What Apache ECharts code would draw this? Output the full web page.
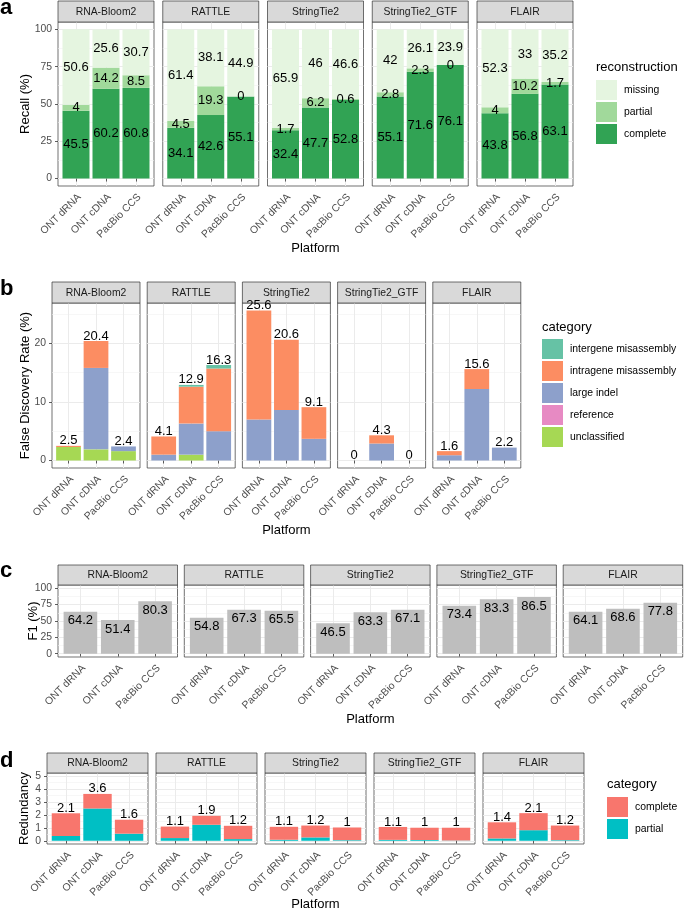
<!DOCTYPE html>
<html><head><meta charset="utf-8">
<script src="https://cdn.jsdelivr.net/npm/echarts@6/dist/echarts.min.js"></script>
<style>html,body{margin:0;padding:0;background:#fff}#c{width:685px;height:912px}</style>
</head><body><div id="c"></div>
<script>
// ---------- data ----------
const tools = ['RNA-Bloom2', 'RATTLE', 'StringTie2', 'StringTie2_GTF', 'FLAIR'];
const platforms = ['ONT dRNA', 'ONT cDNA', 'PacBio CCS'];

// (a) Recall (%) — per tool: [ONT dRNA, ONT cDNA, PacBio CCS]
const recallComplete = [[45.5, 60.2, 60.8], [34.1, 42.6, 55.1], [32.4, 47.7, 52.8], [55.1, 71.6, 76.1], [43.8, 56.8, 63.1]];
const recallPartial  = [[4, 14.2, 8.5], [4.5, 19.3, 0], [1.7, 6.2, 0.6], [2.8, 2.3, 0], [4, 10.2, 1.7]];
const recallMissing  = [[50.6, 25.6, 30.7], [61.4, 38.1, 44.9], [65.9, 46, 46.6], [42, 26.1, 23.9], [52.3, 33, 35.2]];
const recallTicks = [0, 25, 50, 75, 100];

// (b) False Discovery Rate (%)
const fdrIntergene    = [[0, 0, 0], [0, 0.3, 0.6], [0, 0, 0], [0, 0, 0], [0, 0, 0]];
const fdrIntragene    = [[0.2, 4.6, 0], [3.1, 6.3, 10.7], [18.6, 12.0, 5.4], [0, 1.4, 0], [0.7, 3.4, 0]];
const fdrLargeIndel   = [[0, 13.9, 0.8], [1.0, 5.3, 5.0], [7.0, 8.6, 3.7], [0, 2.9, 0], [0.9, 12.2, 2.2]];
const fdrReference    = [[0, 0, 0], [0, 0, 0], [0, 0, 0], [0, 0, 0], [0, 0, 0]];
const fdrUnclassified = [[2.3, 1.9, 1.6], [0, 1.0, 0], [0, 0, 0], [0, 0, 0], [0, 0, 0]];
const fdrTicks = [0, 10, 20];

// (c) F1 (%)
const f1Values = [[64.2, 51.4, 80.3], [54.8, 67.3, 65.5], [46.5, 63.3, 67.1], [73.4, 83.3, 86.5], [64.1, 68.6, 77.8]];
const f1Ticks = [0, 25, 50, 75, 100];

// (d) Redundancy
const redComplete = [[1.76, 1.13, 1.08], [0.89, 0.69, 1.03], [1.0, 0.92, 0.98], [1.0, 0.95, 0.99], [1.25, 1.32, 1.13]];
const redPartial  = [[0.37, 2.5, 0.55], [0.21, 1.24, 0.13], [0.08, 0.26, 0.05], [0.07, 0.06, 0.02], [0.18, 0.82, 0.05]];
const redTicks = [0, 1, 2, 3, 4, 5];

// ---------- helpers ----------
const FONT = '"Liberation Sans", Arial, Helvetica, sans-serif';
const fmt = v => String(Math.round(v * 10) / 10);
const maxTotal = arrs => Math.max(...arrs[0].flatMap((row, t) => row.map((_, p) => arrs.reduce((s, a) => s + a[t][p], 0))));

const option = {
  animation: false, backgroundColor: '#ffffff', textStyle: { fontFamily: FONT },
  grid: [], xAxis: [], yAxis: [], series: [], legend: [], graphic: { elements: [] }
};
const G = option.graphic.elements;

function addText(x, y, text, size, o = {}) {
  const el = { type: 'text', x, y, silent: true, z: 10,
    style: { text, fontSize: size, fontFamily: FONT, fill: o.fill || '#000', fontWeight: o.weight || 'normal',
      align: o.align || 'center', verticalAlign: o.va || 'middle' } };
  if (o.rotation) el.rotation = o.rotation;
  G.push(el);
}

function rectRender(color) {
  return (params, api) => {
    const x = api.value(0);
    const a = api.coord([x - 0.45, api.value(1)]);
    const b = api.coord([x + 0.45, api.value(2)]);
    return { type: 'rect', shape: { x: a[0], y: b[1], width: b[0] - a[0], height: a[1] - b[1] }, style: { fill: color } };
  };
}
function labelRender(mode) {
  return (params, api) => {
    const p = api.coord([api.value(0), api.value(1)]);
    const dy = mode === 'total' ? -5 : (mode === 'insideTop' ? 9 : 0);
    return { type: 'text', style: { text: fmt(api.value(2)), x: p[0], y: p[1] + dy, align: 'center', verticalAlign: 'middle',
      fontSize: 13, fontFamily: FONT, fill: '#000' } };
  };
}

function buildRow(row) {
  const span = row.ylim[1] - row.ylim[0];
  const ymin = row.ylim[0] - 0.05 * span, ymax = row.ylim[1] + 0.05 * span;
  const st = row.ticks[1] - row.ticks[0];
  const minor = [];
  for (let t = row.ticks[0] - st / 2; t <= ymax; t += st) if (t >= ymin) minor.push(t);
  const pxPerUnit = row.w / 3.2;
  const labelVals = [1, 2, 3].map(v => v + 3.5 / pxPerUnit);

  tools.forEach((tool, f) => {
    const gi = option.grid.length;
    const left = row.left + f * row.step;
    option.grid.push({ left, top: row.top, width: row.w, height: row.bottom - row.top, show: true,
      backgroundColor: '#fff', borderColor: '#333333', borderWidth: 0.7, containLabel: false, outerBoundsMode: 'none' });
    option.xAxis.push({ type: 'value', gridIndex: gi, min: 0.4, max: 3.6,
      axisLine: { show: false },
      axisTick: { show: true, length: 3, customValues: [1, 2, 3], lineStyle: { color: '#333', width: 0.8 } },
      axisLabel: { show: true, customValues: labelVals, rotate: 45, margin: 9.5, fontSize: 10.4, color: '#4D4D4D', fontFamily: FONT,
        formatter: v => platforms[Math.round(v) - 1] },
      splitLine: { show: true, lineStyle: { color: '#EBEBEB', width: 1 } } });
    const yi = option.yAxis.length;
    option.yAxis.push({ type: 'value', gridIndex: gi, min: ymin, max: ymax, position: 'left',
      axisLine: { show: false },
      axisTick: { show: f === 0, length: 3, customValues: row.ticks, lineStyle: { color: '#333', width: 0.8 } },
      axisLabel: { show: f === 0, customValues: row.ticks, margin: 6, fontSize: 10.4, color: '#4D4D4D', fontFamily: FONT },
      splitLine: { show: true, lineStyle: { color: '#EBEBEB', width: 1 } } });
    option.yAxis.push({ type: 'value', gridIndex: gi, min: ymin, max: ymax, position: 'left',
      axisLine: { show: false }, axisTick: { show: false, customValues: minor }, axisLabel: { show: false, customValues: minor },
      splitLine: { show: true, lineStyle: { color: '#F2F2F2', width: 0.6 } } });

    // strip
    G.push({ type: 'rect', silent: true, z: 5, shape: { x: left, y: row.stripTop, width: row.w, height: row.top - row.stripTop },
      style: { fill: '#D9D9D9', stroke: '#333333', lineWidth: 0.7 } });
    addText(left + row.w / 2, (row.stripTop + row.top) / 2 + 0.5, tool, 10.4, { fill: '#1A1A1A' });

    const base = [0, 0, 0];
    const labelData = [];
    row.layers.forEach(layer => {
      const vals = layer.values[f];
      const data = vals.map((v, i) => [i + 1, base[i], base[i] + v, v]);
      if (row.labelMode === 'segment') vals.forEach((v, i) => labelData.push([i + 1, base[i] + v / 2, v]));
      vals.forEach((v, i) => { base[i] += v; });
      option.series.push({ type: 'custom', name: layer.name, xAxisIndex: gi, yAxisIndex: yi, z: 2,
        itemStyle: { color: layer.color }, encode: { x: 0, y: [1, 2] }, data, renderItem: rectRender(layer.color) });
    });
    if (row.labelMode !== 'segment') base.forEach((b, i) => labelData.push([i + 1, b, b]));
    option.series.push({ type: 'custom', name: '_labels', xAxisIndex: gi, yAxisIndex: yi, z: 5, silent: true,
      encode: { x: 0, y: 1 }, data: labelData, renderItem: labelRender(row.labelMode) });
  });

  // titles
  const xCenter = row.left + (tools.length - 1) * row.step / 2 + row.w / 2;
  addText(xCenter, row.xTitleY, 'Platform', 13);
  addText(row.yTitleX, (row.top + row.bottom) / 2, row.yTitle, 13, { rotation: Math.PI / 2 });
  addText(0, row.letterY, row.letter, 22, { weight: 'bold', align: 'left' });

  if (row.legend) {
    option.legend.push({ orient: 'vertical', left: row.legend.left, top: row.legend.top, padding: 0,
      itemWidth: 21, itemHeight: 20, itemGap: 2, icon: 'rect', selectedMode: false,
      data: row.legend.names, formatter: n => n.replace(/^d:/, ''),
      itemStyle: { borderWidth: 0 },
      textStyle: { fontSize: 10.4, color: '#000', fontFamily: FONT, padding: [0, 0, 0, 2] } });
    addText(row.legend.left, row.legend.titleY, row.legend.title, 13, { align: 'left' });
  }
}

buildRow({ letter: 'a', letterY: 7.5, left: 58, step: 104.75, w: 96, stripTop: 1, top: 22, bottom: 186,
  ylim: [0, 100], ticks: recallTicks, labelMode: 'segment', yTitle: 'Recall (%)', yTitleX: 25, xTitleY: 248,
  layers: [
    { name: 'complete', color: '#31A354', values: recallComplete },
    { name: 'partial', color: '#A1D99B', values: recallPartial },
    { name: 'missing', color: '#E5F5E0', values: recallMissing }],
  legend: { title: 'reconstruction', left: 596, titleY: 67, top: 80, names: ['missing', 'partial', 'complete'] } });

buildRow({ letter: 'b', letterY: 289, left: 52, step: 95.2, w: 88, stripTop: 282, top: 303, bottom: 468,
  ylim: [0, maxTotal([fdrIntergene, fdrIntragene, fdrLargeIndel, fdrReference, fdrUnclassified])], ticks: fdrTicks,
  labelMode: 'total', yTitle: 'False Discovery Rate (%)', yTitleX: 25, xTitleY: 530,
  layers: [
    { name: 'unclassified', color: '#A6D854', values: fdrUnclassified },
    { name: 'reference', color: '#E78AC3', values: fdrReference },
    { name: 'large indel', color: '#8DA0CB', values: fdrLargeIndel },
    { name: 'intragene misassembly', color: '#FC8D62', values: fdrIntragene },
    { name: 'intergene misassembly', color: '#66C2A5', values: fdrIntergene }],
  legend: { title: 'category', left: 542, titleY: 327, top: 339,
    names: ['intergene misassembly', 'intragene misassembly', 'large indel', 'reference', 'unclassified'] } });

buildRow({ letter: 'c', letterY: 570.7, left: 58, step: 126.3, w: 119.5, stripTop: 565, top: 585, bottom: 657,
  ylim: [0, 100], ticks: f1Ticks, labelMode: 'insideTop', yTitle: 'F1 (%)', yTitleX: 33, xTitleY: 719,
  layers: [{ name: 'F1', color: '#BEBEBE', values: f1Values }] });

buildRow({ letter: 'd', letterY: 760.5, left: 47, step: 109, w: 101, stripTop: 753, top: 773, bottom: 844,
  ylim: [0, 5], ticks: redTicks, labelMode: 'total', yTitle: 'Redundancy', yTitleX: 24, xTitleY: 904,
  layers: [
    { name: 'd:partial', color: '#00BFC4', values: redPartial },
    { name: 'd:complete', color: '#F8766D', values: redComplete }],
  legend: { title: 'category', left: 607, titleY: 784, top: 797, names: ['d:complete', 'd:partial'] } });

const chart = echarts.init(document.getElementById('c'), null, { renderer: 'canvas', width: 685, height: 912 });
chart.setOption(option);
</script>
</body></html>
